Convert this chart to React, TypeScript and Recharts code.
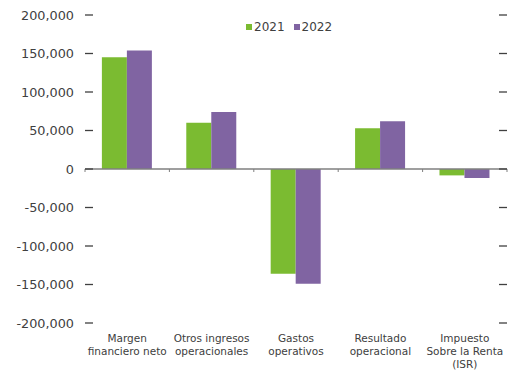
import { Bar, BarChart, Legend, ReferenceLine, XAxis, YAxis } from "recharts";

const categories = [
  "Margen\nfinanciero neto",
  "Otros ingresos\noperacionales",
  "Gastos\noperativos",
  "Resultado\noperacional",
  "Impuesto\nSobre la Renta\n(ISR)",
];
const values2021 = [145000, 60000, -136000, 53000, -8300];
const values2022 = [154000, 74000, -149000, 62000, -11700];
const yTicks = [-200000, -150000, -100000, -50000, 0, 50000, 100000, 150000, 200000];

const GREEN = "#7bbb31";
const PURPLE = "#8064a2";
const TEXT = "#404040";
const FONT = "DejaVu Sans";

const data = categories.map((name, i) => ({ name, y2021: values2021[i], y2022: values2022[i] }));

const PLOT_LEFT = 85;
const PLOT_RIGHT = 507;

const YTick = ({ y, payload }: any) => (
  <g>
    <text x={74} y={y} dy={4.5} textAnchor="end" fontSize={12.8} fill={TEXT} fontFamily={FONT}>
      {Number(payload.value).toLocaleString("en-US")}
    </text>
    <line x1={PLOT_LEFT} x2={PLOT_LEFT + 8} y1={y} y2={y} stroke={TEXT} strokeWidth={1.3} />
    <line x1={PLOT_RIGHT - 8} x2={PLOT_RIGHT} y1={y} y2={y} stroke={TEXT} strokeWidth={1.3} />
  </g>
);

const XTick = ({ x, y, payload }: any) => {
  const lines = String(payload.value).split("\n");
  return (
    <text x={x} y={y} textAnchor="middle" fontSize={10.5} fill={TEXT} fontFamily={FONT}>
      {lines.map((l, i) => (
        <tspan key={i} x={x} dy={i === 0 ? 11 : 13}>
          {l}
        </tspan>
      ))}
    </text>
  );
};

const ZeroLine = (props: any) => {
  const { x1, x2, y1 } = props;
  const step = (x2 - x1) / categories.length;
  return (
    <g>
      <line x1={x1} x2={x2} y1={y1} y2={y1} stroke="#7f7f7f" strokeWidth={1.3} />
      {Array.from({ length: categories.length + 1 }, (_, i) => (
        <line key={i} x1={x1 + step * i} x2={x1 + step * i} y1={y1} y2={y1 + 3} stroke="#7f7f7f" strokeWidth={1} />
      ))}
    </g>
  );
};

const LegendContent = () => (
  <div style={{ display: "flex", alignItems: "center", fontFamily: FONT, fontSize: 12, color: TEXT }}>
    <span style={{ display: "inline-block", width: 6, height: 6, background: GREEN, marginRight: 2 }} />
    <span style={{ marginRight: 9 }}>2021</span>
    <span style={{ display: "inline-block", width: 6, height: 6, background: PURPLE, marginRight: 2 }} />
    <span>2022</span>
  </div>
);

export default function App() {
  return (
    <div>
      <style>{`body{margin:0;background:#fff}`}</style>
      <BarChart
        width={511}
        height={370}
        data={data}
        margin={{ top: 15, right: 4, bottom: 0, left: 0 }}
        barCategoryGap="20%"
        barGap={0}
      >
        <XAxis dataKey="name" axisLine={false} tickLine={false} height={47} interval={0} tick={<XTick />} />
        <YAxis
          domain={[-200000, 200000]}
          ticks={yTicks}
          width={85}
          axisLine={false}
          tickLine={false}
          tick={<YTick />}
          interval={0}
        />
        <Legend
          verticalAlign="middle"
          align="center"
          layout="horizontal"
          content={<LegendContent />}
          wrapperStyle={{ position: "absolute", top: 20, left: 246, width: "auto", height: "auto" }}
        />
        <Bar dataKey="y2021" name="2021" fill={GREEN} isAnimationActive={false} />
        <Bar dataKey="y2022" name="2022" fill={PURPLE} isAnimationActive={false} />
        <ReferenceLine y={0} shape={<ZeroLine />} />
      </BarChart>
    </div>
  );
}
